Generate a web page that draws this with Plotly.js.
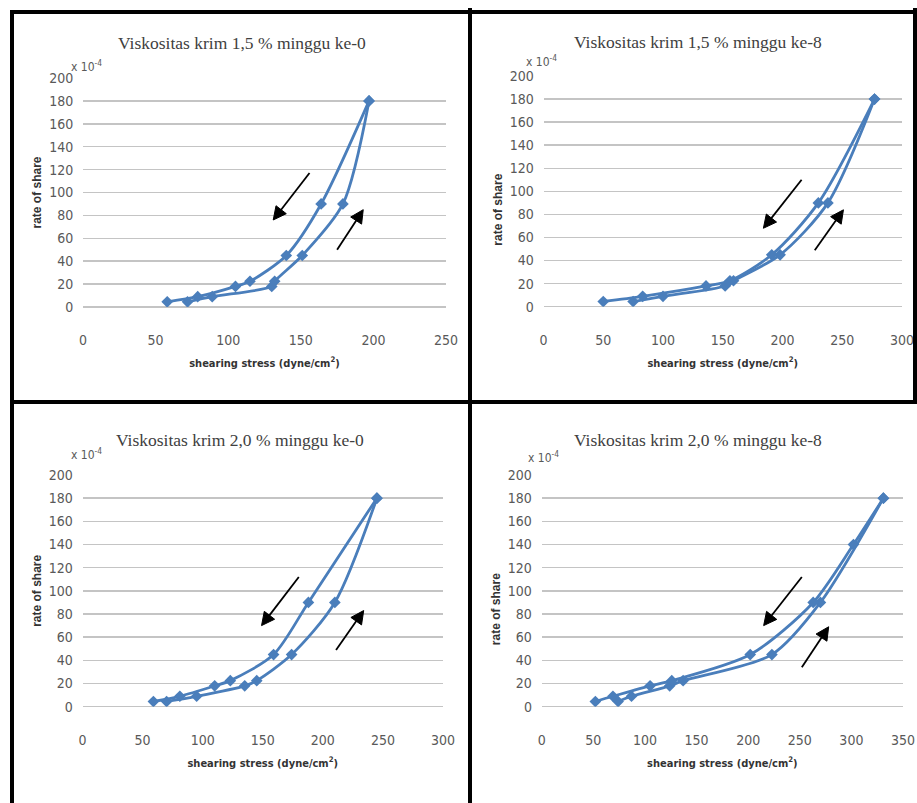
<!DOCTYPE html>
<html>
<head>
<meta charset="utf-8">
<script src="https://cdn.plot.ly/plotly-3.0.1.min.js"></script>
<style>html,body{margin:0;padding:0;background:#fff;}#chart{width:917px;height:803px;}</style>
</head>
<body>
<div id="chart"></div>
<script>
// ---- data ----
const titles = [
  "Viskositas krim 1,5 % minggu ke-0",
  "Viskositas krim 1,5 % minggu ke-8",
  "Viskositas krim 2,0 % minggu ke-0",
  "Viskositas krim 2,0 % minggu ke-8"
];
const xAxisLabel = "shearing stress (dyne/cm<sup>2</sup>)";
const yAxisLabel = "rate of share";
const yScaleLabel = "x 10<sup>-4</sup>";
const xMax = [250, 300, 300, 350];

const xUp1 = [72, 89, 130, 132, 151, 179, 197];
const yUp1 = [4.5, 9, 18, 22.5, 45, 90, 180];
const xDown1 = [197, 164, 140, 115, 105, 79, 58];
const yDown1 = [180, 90, 45, 22.5, 18, 9, 4.5];

const xUp2 = [75, 100, 152, 159, 198, 238, 277];
const yUp2 = [4.5, 9, 18, 22.5, 45, 90, 180];
const xDown2 = [277, 230, 191, 156, 136, 83, 50];
const yDown2 = [180, 90, 45, 22.5, 18, 9, 4.5];

const xUp3 = [70, 95, 135, 145, 174, 210, 245];
const yUp3 = [4.5, 9, 18, 22.5, 45, 90, 180];
const xDown3 = [245, 188, 159, 123, 110, 81, 59];
const yDown3 = [180, 90, 45, 22.5, 18, 9, 4.5];

const xUp4 = [74, 87, 124, 137, 223, 270, 331];
const yUp4 = [4.5, 9, 18, 22.5, 45, 90, 180];
const xDown4 = [331, 302, 263, 202, 126, 105, 69, 52];
const yDown4 = [180, 140, 90, 45, 22.5, 18, 9, 4.5];

// ---- layout helpers ----
const W = 917, H = 803;
const px = v => v / W;
const py = v => 1 - v / H;
const BLUE = '#4A7EBB';
const series = [
  [xUp1, yUp1, xDown1, yDown1],
  [xUp2, yUp2, xDown2, yDown2],
  [xUp3, yUp3, xDown3, yDown3],
  [xUp4, yUp4, xDown4, yDown4]
];
// plot areas in pixels [left, right, top, bottom]
const boxes = [
  [83, 446, 78, 307],
  [543.5, 902, 76, 306.7],
  [82.5, 443, 475, 706.7],
  [541.7, 903, 475, 706.7]
];
// text anchor positions in pixels
const titlePos = [[242, 43], [698, 42], [240, 440], [698, 440]];
const scalePos = [[86, 66], [541, 61], [86, 454], [543, 457]];
// right-hand panels have their y title set lower than the plot centre
const yTitlePad = ['', '\u00A0'.repeat(11), '', '\u00A0'.repeat(11)];
// direction arrows in axis units: [tailX, tailY, headX, headY]
const arrows = [
  [[156, 117, 131, 76], [175, 50, 193, 85]],
  [[216, 110, 184, 68], [227, 49, 251, 84]],
  [[180, 112, 149, 70], [211, 49, 234, 83]],
  [[252, 112, 215, 70], [252, 34, 278, 69]]
];

const tickFont = {family: 'Liberation Sans Narrow, DejaVu Sans Condensed, sans-serif', size: 14, color: '#595959'};
const data = [];
const layout = {
  width: W, height: H,
  margin: {l: 0, r: 0, t: 0, b: 0},
  paper_bgcolor: '#fff', plot_bgcolor: '#fff',
  showlegend: false,
  annotations: [], shapes: []
};
const S = layout.shapes;

series.forEach((s, i) => {
  const n = i === 0 ? '' : String(i + 1);
  const common = {
    mode: 'lines+markers',
    line: {color: BLUE, width: 2.8, shape: 'spline', smoothing: 0.8},
    marker: {symbol: 'diamond', size: 9, color: BLUE},
    xaxis: 'x' + n, yaxis: 'y' + n, hoverinfo: 'x+y'
  };
  data.push(Object.assign({x: s[0], y: s[1]}, common));
  data.push(Object.assign({x: s[2], y: s[3]}, common));
  const b = boxes[i];
  layout['xaxis' + n] = {
    domain: [px(b[0]), px(b[1])], anchor: 'y' + n,
    range: [0, xMax[i]], dtick: 50, tick0: 0,
    showgrid: false, zeroline: false, showline: false,
    ticks: 'outside', ticklen: 20, tickcolor: 'rgba(0,0,0,0)',
    tickfont: tickFont, fixedrange: true,
    title: {text: '<b>' + xAxisLabel + '</b>', standoff: 12,
      font: {family: 'Liberation Sans Narrow, DejaVu Sans Condensed, sans-serif', size: 11, color: '#333'}}
  };
  layout['yaxis' + n] = {
    domain: [py(b[3]), py(b[2])], anchor: 'x' + n,
    range: [0, 200], dtick: 20, tick0: 0,
    showgrid: true, gridcolor: '#c4c4c4', gridwidth: 1.5,
    zeroline: true, zerolinecolor: '#c4c4c4', zerolinewidth: 1.5,
    showline: false, ticks: 'outside', ticklen: 6, tickcolor: 'rgba(0,0,0,0)',
    tickfont: tickFont, fixedrange: true,
    title: {text: '<b>' + yAxisLabel + yTitlePad[i] + '</b>', standoff: 4,
      font: {family: 'Liberation Sans, sans-serif', size: 12, color: '#333'}}
  };
  const A = layout.annotations;
  A.push({xref: 'paper', yref: 'paper', x: px(titlePos[i][0]), y: py(titlePos[i][1]),
    text: titles[i], showarrow: false, xanchor: 'center', yanchor: 'middle',
    font: {family: 'Liberation Serif, serif', size: 17.5, color: '#404040'}});
  A.push({xref: 'paper', yref: 'paper', x: px(scalePos[i][0]), y: py(scalePos[i][1]),
    text: yScaleLabel, showarrow: false, xanchor: 'center', yanchor: 'middle',
    font: {family: 'Liberation Sans Narrow, DejaVu Sans Condensed, sans-serif', size: 12, color: '#595959'}});

  // arrows drawn as shapes: shaft line + filled triangular head (pixel geometry from axis scale)
  const toPx = (xv, yv) => [b[0] + (b[1] - b[0]) * xv / xMax[i], b[3] - (b[3] - b[2]) * yv / 200];
  arrows[i].forEach(a => {
    const t = toPx(a[0], a[1]), h = toPx(a[2], a[3]);
    const dx = h[0] - t[0], dy = h[1] - t[1];
    const L = Math.hypot(dx, dy), ux = dx / L, uy = dy / L;
    const headLen = 13, headHalf = 6.5;
    const bx = h[0] - ux * headLen, by = h[1] - uy * headLen;
    S.push({type: 'line', xref: 'paper', yref: 'paper',
      x0: px(t[0]), y0: py(t[1]), x1: px(bx + ux * 2), y1: py(by + uy * 2),
      line: {color: '#000', width: 1.8}});
    const p1 = [bx - uy * headHalf, by + ux * headHalf];
    const p2 = [bx + uy * headHalf, by - ux * headHalf];
    S.push({type: 'path', xref: 'paper', yref: 'paper',
      path: 'M ' + px(h[0]) + ' ' + py(h[1]) + ' L ' + px(p1[0]) + ' ' + py(p1[1]) +
            ' L ' + px(p2[0]) + ' ' + py(p2[1]) + ' Z',
      fillcolor: '#000', line: {color: '#000', width: 1}});
  });
});

// panel frames
const line = (x0, y0, x1, y1) => S.push({type: 'line', xref: 'paper', yref: 'paper',
  x0: px(x0), y0: py(y0), x1: px(x1), y1: py(y1), line: {color: '#000', width: 4}});
line(10, 12, 917, 12);
line(12, 10, 12, 803);
line(470, 8, 470, 803);
line(10, 402, 917, 402);
line(915, 8, 915, 402);

Plotly.newPlot('chart', data, layout, {displayModeBar: false, staticPlot: true});
</script>
</body>
</html>
